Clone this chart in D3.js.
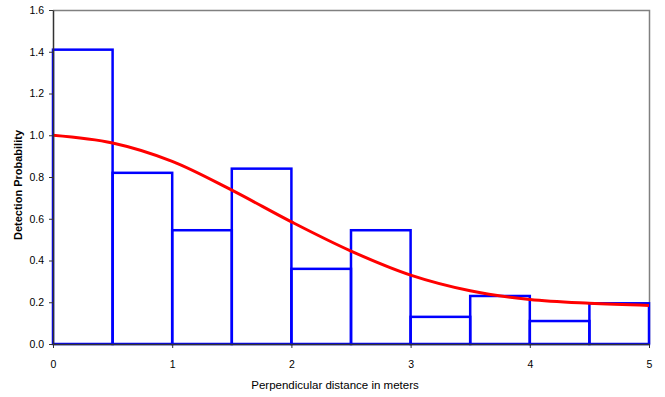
<!DOCTYPE html>
<meta charset="utf-8">
<script src="https://d3js.org/d3.v7.min.js"></script>
<style>
    body { margin: 0; background: #fff; }
    text { font-family: "Liberation Sans", Arial, sans-serif; fill: #000; }
</style>
<div id="chart"></div>
<script>
    // histogram bins (lower edge) and bar heights
    var binStarts = [0, 0.5, 1, 1.5, 2, 2.5, 3, 3.5, 4, 4.5];
    var binHeights = [1.41, 0.82, 0.545, 0.84, 0.36, 0.545, 0.13, 0.23, 0.11, 0.195];
    var binWidth = 0.5;

    // fitted detection curve
    var curveX = [0, 0.5, 1, 1.5, 2, 2.5, 3, 3.5, 4, 4.5, 5];
    var curveY = [1.0, 0.963, 0.875, 0.737, 0.585, 0.445, 0.33, 0.255, 0.213, 0.195, 0.185];

    var xTicks = [0, 1, 2, 3, 4, 5];
    var yTicks = [0, 0.2, 0.4, 0.6, 0.8, 1.0, 1.2, 1.4, 1.6];

    var W = 665, H = 397;
    var margin = { top: 10, right: 16, bottom: 53, left: 53 },
        width = W - margin.left - margin.right,
        height = H - margin.top - margin.bottom;

    var svg = d3.select("#chart").append("svg")
        .attr("width", W)
        .attr("height", H);

    var g = svg.append("g")
        .attr("transform", "translate(" + margin.left + "," + margin.top + ")");

    var x = d3.scaleLinear().domain([0, 5]).range([0, width]);
    var y = d3.scaleLinear().domain([0, 1.6]).range([height, 0]);

    // frame top and right (grey)
    g.append("path")
        .attr("d", "M0,0.5H" + (width + 0.5) + "V" + height)
        .attr("fill", "none")
        .attr("stroke", "#808080")
        .attr("stroke-width", 1.5);

    // bars
    g.append("g").selectAll("rect")
        .data(binStarts)
        .enter().append("rect")
        .attr("x", function(d) { return x(d); })
        .attr("y", function(d, i) { return y(binHeights[i]); })
        .attr("width", x(binWidth) - x(0))
        .attr("height", function(d, i) { return y(0) - y(binHeights[i]); })
        .attr("fill", "none")
        .attr("stroke", "#0000ff")
        .attr("stroke-width", 2.5);

    // red curve
    var line = d3.line()
        .x(function(d) { return x(d[0]); })
        .y(function(d) { return y(d[1]); })
        .curve(d3.curveCatmullRom);

    g.append("path")
        .datum(curveX.map(function(v, i) { return [v, curveY[i]]; }))
        .attr("d", line)
        .attr("fill", "none")
        .attr("stroke", "#ff0000")
        .attr("stroke-width", 3);

    // axes
    var yAxis = g.append("g")
        .call(d3.axisLeft(y).tickValues(yTicks).tickFormat(d3.format(".1f"))
            .tickSize(4).tickSizeOuter(0).tickPadding(5));
    var xAxis = g.append("g")
        .attr("transform", "translate(0," + height + ")")
        .call(d3.axisBottom(x).tickValues(xTicks).tickFormat(d3.format("d"))
            .tickSize(4).tickSizeOuter(0).tickPadding(13));

    [xAxis, yAxis].forEach(function(a) {
        a.select(".domain").attr("stroke", "#333").attr("stroke-width", 1.5);
        a.selectAll(".tick line").attr("stroke", "#333");
        a.selectAll(".tick text").style("font-size", "10.5px").attr("fill", "#000");
    });

    // axis titles
    svg.append("text")
        .attr("x", 335)
        .attr("y", 389)
        .attr("text-anchor", "middle")
        .style("font-size", "11.5px")
        .text("Perpendicular distance in meters");

    svg.append("text")
        .attr("transform", "translate(22,185) rotate(-90)")
        .attr("text-anchor", "middle")
        .style("font-size", "11px")
        .style("font-weight", "bold")
        .text("Detection Probability");
</script>
